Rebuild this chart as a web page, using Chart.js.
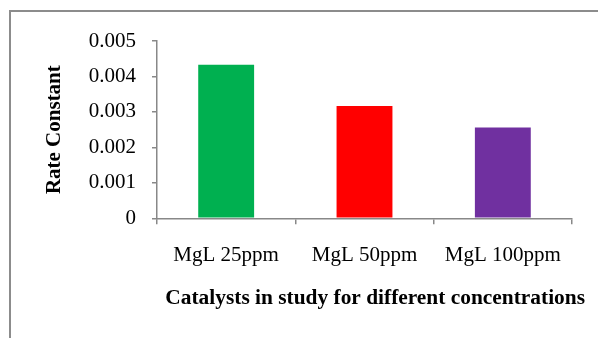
<!DOCTYPE html>
<html>
<head>
<meta charset="utf-8">
<script src="https://cdn.jsdelivr.net/npm/chart.js@4/dist/chart.umd.min.js"></script>
<style>
  body { margin: 0; background: #fff; overflow: hidden; }
  #frame { position: absolute; left: 9px; top: 10px; width: 620px; height: 360px;
           border-top: 2px solid #8c8c8c; border-left: 2px solid #8c8c8c; }
  #rateChart { position: absolute; left: 0; top: 0; }
</style>
</head>
<body>
<div id="frame"></div>
<canvas id="rateChart" width="598" height="338"></canvas>
<script>
const categories = ['MgL 25ppm', 'MgL 50ppm', 'MgL 100ppm'];
const rateConstants = [0.00433, 0.00317, 0.00256];
const barColors = ['#00B050', '#FF0000', '#7030A0'];
const yTickValues = [0, 0.001, 0.002, 0.003, 0.004, 0.005];

const axisGray = '#888888';
const serif = "'Liberation Serif', 'Times New Roman', serif";

// Function to create the chart
function createChart() {
    const ctx = document.getElementById('rateChart').getContext('2d');
    new Chart(ctx, {
        type: 'bar',
        data: {
            labels: categories,
            datasets: [{
                data: rateConstants,
                backgroundColor: barColors,
                borderWidth: 0,
                categoryPercentage: 1,
                barPercentage: 0.404
            }]
        },
        options: {
            responsive: false,
            animation: false,
            layout: { padding: { left: 30, right: 13, top: 41, bottom: 0 } },
            plugins: {
                legend: { display: false },
                tooltip: { enabled: false },
                // x axis title, drawn as chart title so it can sit right of the plot centre
                title: {
                    display: true,
                    position: 'bottom',
                    align: 'end',
                    text: 'Catalysts in study for different concentrations',
                    color: '#000',
                    font: { family: serif, size: 21.4, weight: 'bold' },
                    padding: { top: 0, bottom: 27 }
                }
            },
            scales: {
                x: {
                    afterFit: function(scale) { scale.height = 67; },
                    grid: { drawOnChartArea: false, tickLength: 6, color: axisGray, lineWidth: 1.5 },
                    border: { color: axisGray, width: 1.5 },
                    ticks: { color: '#000', padding: 19, font: { family: serif, size: 21 } }
                },
                y: {
                    min: 0,
                    max: 0.005,
                    afterFit: function(scale) { scale.width = 127; },
                    afterBuildTicks: function(scale) {
                        scale.ticks = yTickValues.map(v => ({ value: v }));
                    },
                    grid: { drawOnChartArea: false, tickLength: 5, color: axisGray, lineWidth: 1.5 },
                    border: { color: axisGray, width: 1.5 },
                    ticks: {
                        color: '#000',
                        padding: 16,
                        font: { family: serif, size: 21 },
                        callback: function(value) { return String(value); }
                    },
                    title: {
                        display: true,
                        text: 'Rate Constant',
                        color: '#000',
                        font: { family: serif, size: 21, weight: 'bold' },
                        padding: { top: 12, bottom: 0 }
                    }
                },
                // empty spacer on the right so the plot ends at the same place
                spacer: {
                    type: 'linear',
                    position: 'right',
                    afterFit: function(scale) { scale.width = 13; },
                    grid: { display: false },
                    border: { display: false },
                    ticks: { display: false }
                }
            }
        }
    });
}

window.onload = createChart;
</script>
</body>
</html>
